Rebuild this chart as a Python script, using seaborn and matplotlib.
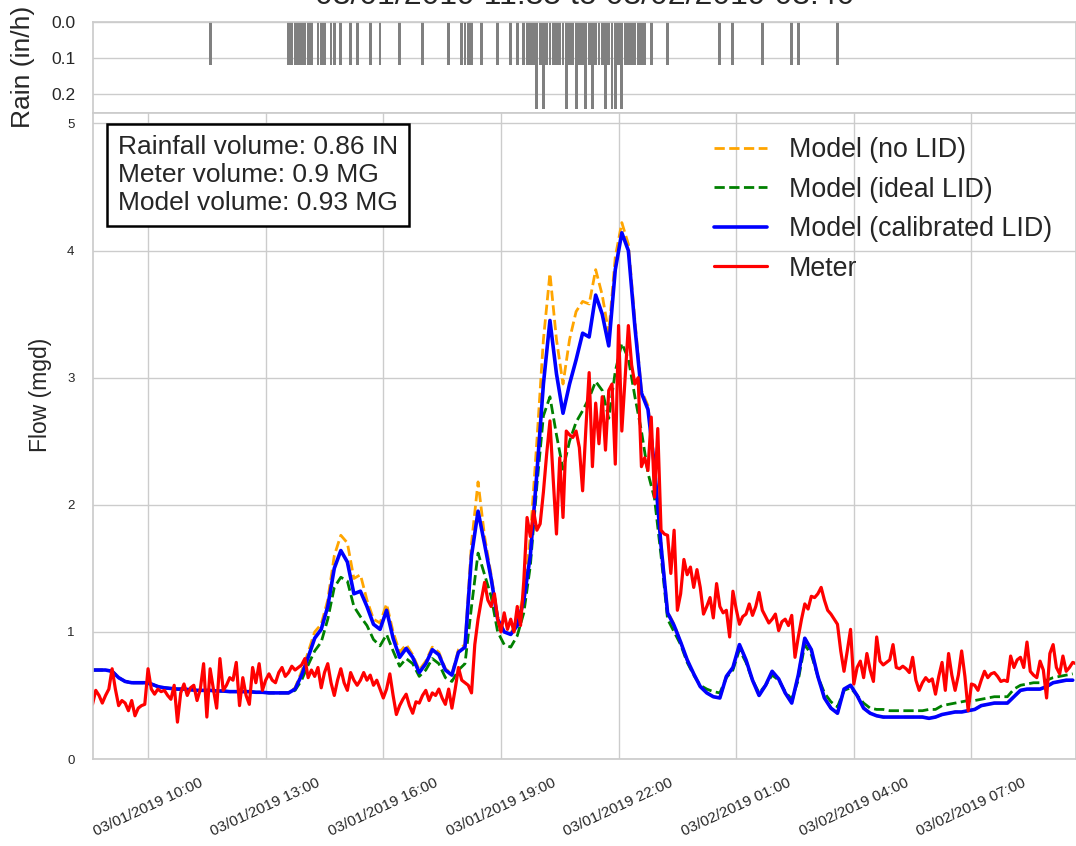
import numpy as np
import pandas as pd
import matplotlib
matplotlib.use("Agg")
import matplotlib.pyplot as plt
import matplotlib.dates as mdates
import seaborn as sns

# ---------------- data ----------------
title_text = "03/01/2019 11:35 to 03/02/2019 03:40"
flow_start = "2019-03-01 08:35"
x_end = "2019-03-02 09:40"
tick_start = "2019-03-01 10:00"

# models: 10-minute values starting 08:35
model_no_lid = [
    0.70, 0.70, 0.70, 0.69, 0.64, 0.61,
    0.60, 0.60, 0.60, 0.59, 0.57, 0.56,
    0.555, 0.55, 0.55, 0.545, 0.54, 0.54,
    0.54, 0.535, 0.535, 0.53, 0.53, 0.53,
    0.53, 0.525, 0.525, 0.52, 0.52, 0.52,
    0.52, 0.56, 0.69, 0.84, 1.00, 1.06,
    1.25, 1.60, 1.76, 1.70, 1.42, 1.45,
    1.25, 1.10, 1.07, 1.22, 1.00, 0.84,
    0.90, 0.82, 0.70, 0.77, 0.88, 0.84,
    0.71, 0.67, 0.86, 0.90, 1.70, 2.18,
    1.75, 1.45, 1.12, 1.00, 0.99, 1.08,
    1.30, 1.75, 2.50, 3.30, 3.82, 3.30,
    2.95, 3.30, 3.52, 3.60, 3.58, 3.85,
    3.65, 3.35, 3.95, 4.22, 4.05, 3.45,
    2.90, 2.78, 2.32, 1.70, 1.16, 1.06,
    0.92, 0.78, 0.67, 0.57, 0.52, 0.49,
    0.48, 0.65, 0.72, 0.90, 0.78, 0.62,
    0.50, 0.58, 0.69, 0.63, 0.52, 0.44,
    0.66, 0.95, 0.86, 0.65, 0.48, 0.40,
    0.36, 0.55, 0.58, 0.50, 0.40, 0.36,
    0.34, 0.33, 0.33, 0.33, 0.33, 0.33,
    0.33, 0.33, 0.32, 0.33, 0.35, 0.36,
    0.37, 0.37, 0.38, 0.39, 0.42, 0.43,
    0.44, 0.44, 0.44, 0.49, 0.54, 0.55,
    0.55, 0.55, 0.57, 0.60, 0.61, 0.62,
    0.62,
]
model_ideal_lid = [
    0.70, 0.70, 0.70, 0.69, 0.64, 0.61,
    0.60, 0.60, 0.60, 0.59, 0.57, 0.56,
    0.555, 0.55, 0.55, 0.545, 0.54, 0.54,
    0.54, 0.535, 0.535, 0.53, 0.53, 0.53,
    0.53, 0.525, 0.525, 0.52, 0.52, 0.52,
    0.52, 0.54, 0.62, 0.74, 0.85, 0.92,
    1.10, 1.35, 1.43, 1.40, 1.20, 1.12,
    1.05, 0.94, 0.89, 0.98, 0.85, 0.73,
    0.79, 0.75, 0.65, 0.70, 0.79, 0.75,
    0.64, 0.61, 0.70, 0.75, 1.20, 1.62,
    1.45, 1.28, 1.00, 0.90, 0.88, 0.97,
    1.15, 1.52, 2.15, 2.70, 2.85, 2.55,
    2.28, 2.50, 2.65, 2.74, 2.84, 2.97,
    2.90, 2.68, 3.05, 3.27, 3.15, 2.85,
    2.58, 2.25, 2.05, 1.60, 1.10, 1.00,
    0.90, 0.76, 0.66, 0.58, 0.55, 0.53,
    0.52, 0.64, 0.70, 0.86, 0.76, 0.62,
    0.52, 0.58, 0.66, 0.62, 0.53, 0.47,
    0.62, 0.90, 0.82, 0.65, 0.52, 0.45,
    0.41, 0.54, 0.56, 0.50, 0.44, 0.40,
    0.39, 0.39, 0.38, 0.38, 0.38, 0.38,
    0.38, 0.38, 0.39, 0.39, 0.42, 0.43,
    0.44, 0.45, 0.46, 0.46, 0.47, 0.48,
    0.49, 0.49, 0.49, 0.55, 0.58, 0.59,
    0.60, 0.60, 0.62, 0.64, 0.65, 0.66,
    0.67,
]
model_calibrated_lid = [
    0.70, 0.70, 0.70, 0.69, 0.64, 0.61,
    0.60, 0.60, 0.60, 0.59, 0.57, 0.56,
    0.555, 0.55, 0.55, 0.545, 0.54, 0.54,
    0.54, 0.535, 0.535, 0.53, 0.53, 0.53,
    0.53, 0.525, 0.525, 0.52, 0.52, 0.52,
    0.52, 0.55, 0.66, 0.80, 0.95, 1.02,
    1.20, 1.50, 1.64, 1.55, 1.30, 1.32,
    1.20, 1.06, 1.02, 1.17, 0.95, 0.80,
    0.87, 0.80, 0.68, 0.75, 0.86, 0.82,
    0.70, 0.66, 0.84, 0.88, 1.60, 1.95,
    1.69, 1.42, 1.10, 1.00, 0.98, 1.05,
    1.25, 1.60, 2.25, 2.95, 3.45, 3.03,
    2.72, 2.95, 3.14, 3.35, 3.32, 3.65,
    3.50, 3.25, 3.85, 4.14, 4.00, 3.40,
    2.88, 2.75, 2.30, 1.68, 1.15, 1.05,
    0.92, 0.78, 0.67, 0.57, 0.52, 0.49,
    0.48, 0.65, 0.72, 0.90, 0.78, 0.62,
    0.50, 0.58, 0.69, 0.63, 0.52, 0.44,
    0.66, 0.95, 0.86, 0.65, 0.48, 0.40,
    0.36, 0.55, 0.58, 0.50, 0.40, 0.36,
    0.34, 0.33, 0.33, 0.33, 0.33, 0.33,
    0.33, 0.33, 0.32, 0.33, 0.35, 0.36,
    0.37, 0.37, 0.38, 0.39, 0.42, 0.43,
    0.44, 0.44, 0.44, 0.49, 0.54, 0.55,
    0.55, 0.55, 0.57, 0.60, 0.61, 0.62,
    0.62,
]

# meter: 5-minute values starting 08:35
meter = [
    0.43, 0.54, 0.50, 0.44, 0.50, 0.55, 0.71, 0.55, 0.42, 0.46, 0.44, 0.38,
    0.46, 0.34, 0.40, 0.42, 0.43, 0.71, 0.55, 0.51, 0.55, 0.53, 0.54, 0.50,
    0.47, 0.58, 0.29, 0.52, 0.59, 0.50, 0.56, 0.58, 0.46, 0.55, 0.75, 0.33,
    0.71, 0.55, 0.40, 0.79, 0.54, 0.58, 0.64, 0.62, 0.76, 0.42, 0.64, 0.50,
    0.43, 0.72, 0.60, 0.75, 0.54, 0.62, 0.67, 0.62, 0.60, 0.68, 0.72, 0.65,
    0.68, 0.73, 0.70, 0.72, 0.74, 0.79, 0.64, 0.70, 0.65, 0.72, 0.56, 0.68,
    0.75, 0.60, 0.50, 0.62, 0.71, 0.60, 0.54, 0.68, 0.62, 0.58, 0.62, 0.68,
    0.62, 0.66, 0.58, 0.62, 0.55, 0.48, 0.55, 0.67, 0.50, 0.35, 0.42, 0.47,
    0.51, 0.42, 0.36, 0.45, 0.44, 0.50, 0.54, 0.46, 0.52, 0.50, 0.55, 0.48,
    0.43, 0.55, 0.40, 0.55, 0.72, 0.62, 0.60, 0.58, 0.52, 0.90, 1.10, 1.25,
    1.39, 1.25, 1.20, 1.30, 1.10, 1.00, 1.15, 1.02, 1.10, 1.00, 1.20, 1.05,
    1.40, 1.90, 1.75, 1.95, 1.80, 1.85, 2.10, 2.40, 2.66, 2.20, 1.77, 2.37,
    1.90, 2.58, 2.55, 2.53, 2.58, 2.45, 2.11, 2.60, 3.04, 2.30, 2.80, 2.48,
    2.85, 2.43, 2.90, 2.95, 2.32, 3.41, 2.58, 3.00, 3.41, 3.10, 2.95, 3.00,
    2.30, 2.37, 2.27, 2.69, 2.06, 2.60, 1.80, 1.77, 1.76, 1.46, 1.80, 1.17,
    1.30, 1.57, 1.45, 1.51, 1.35, 1.49, 1.35, 1.14, 1.20, 1.27, 1.11, 1.38,
    1.20, 1.15, 1.17, 0.96, 1.32, 1.18, 1.06, 1.12, 1.14, 1.22, 1.13, 1.20,
    1.31, 1.17, 1.12, 1.07, 1.10, 1.14, 1.01, 1.08, 1.10, 1.05, 1.13, 0.80,
    0.96, 1.10, 1.22, 1.18, 1.28, 1.27, 1.30, 1.35, 1.25, 1.17, 1.14, 1.10,
    1.06, 0.85, 0.69, 0.85, 1.02, 0.59, 0.72, 0.77, 0.64, 0.83, 0.70, 0.61,
    0.96, 0.77, 0.74, 0.76, 0.78, 0.90, 0.72, 0.71, 0.73, 0.71, 0.68, 0.80,
    0.62, 0.54, 0.60, 0.64, 0.61, 0.63, 0.51, 0.65, 0.76, 0.54, 0.83, 0.66,
    0.54, 0.66, 0.85, 0.65, 0.38, 0.59, 0.58, 0.54, 0.62, 0.69, 0.64, 0.67,
    0.68, 0.65, 0.61, 0.62, 0.61, 0.81, 0.72, 0.78, 0.80, 0.72, 0.92, 0.69,
    0.66, 0.64, 0.77, 0.70, 0.48, 0.83, 0.90, 0.72, 0.67, 0.81, 0.69, 0.72,
    0.76, 0.75,
]

# rain (5-minute intensities, in/h)
rain_time = [
    "2019-03-01 11:35",
    "2019-03-01 13:35", "2019-03-01 13:40", "2019-03-01 13:45", "2019-03-01 13:50", "2019-03-01 13:55",
    "2019-03-01 14:00", "2019-03-01 14:05", "2019-03-01 14:10",
    "2019-03-01 14:20", "2019-03-01 14:25", "2019-03-01 14:30",
    "2019-03-01 14:40", "2019-03-01 14:45",
    "2019-03-01 14:55", "2019-03-01 15:10", "2019-03-01 15:20", "2019-03-01 15:40",
    "2019-03-01 15:55", "2019-03-01 16:25", "2019-03-01 17:00", "2019-03-01 17:40",
    "2019-03-01 18:00", "2019-03-01 18:05", "2019-03-01 18:10", "2019-03-01 18:15",
    "2019-03-01 18:30", "2019-03-01 18:55", "2019-03-01 19:15", "2019-03-01 19:25",
    "2019-03-01 19:35", "2019-03-01 19:40", "2019-03-01 19:45", "2019-03-01 19:50", "2019-03-01 19:55",
    "2019-03-01 20:00", "2019-03-01 20:05", "2019-03-01 20:10", "2019-03-01 20:15", "2019-03-01 20:20",
    "2019-03-01 20:25", "2019-03-01 20:30", "2019-03-01 20:35", "2019-03-01 20:40", "2019-03-01 20:45",
    "2019-03-01 20:50", "2019-03-01 20:55",
    "2019-03-01 21:00", "2019-03-01 21:05", "2019-03-01 21:10", "2019-03-01 21:15", "2019-03-01 21:20",
    "2019-03-01 21:25", "2019-03-01 21:30", "2019-03-01 21:35", "2019-03-01 21:40", "2019-03-01 21:45",
    "2019-03-01 21:50", "2019-03-01 21:55",
    "2019-03-01 22:00", "2019-03-01 22:05", "2019-03-01 22:10", "2019-03-01 22:15", "2019-03-01 22:20",
    "2019-03-01 22:25", "2019-03-01 22:30", "2019-03-01 22:35", "2019-03-01 22:40",
    "2019-03-01 22:50", "2019-03-01 23:15", "2019-03-02 00:35", "2019-03-02 00:55",
    "2019-03-02 01:40", "2019-03-02 02:25", "2019-03-02 02:35", "2019-03-02 03:35",
]
rain_rate = [
    0.12,
    0.12, 0.12, 0.12, 0.12, 0.12,
    0.12, 0.12, 0.12,
    0.12, 0.12, 0.12,
    0.12, 0.12,
    0.12, 0.12, 0.12, 0.12,
    0.12, 0.12, 0.12, 0.12,
    0.12, 0.12, 0.12, 0.12,
    0.12, 0.12, 0.12, 0.12,
    0.12, 0.12, 0.12, 0.12, 0.24,
    0.12, 0.24, 0.12, 0.12, 0.12,
    0.12, 0.12, 0.12, 0.24, 0.12,
    0.12, 0.24,
    0.12, 0.12, 0.24, 0.12, 0.24,
    0.12, 0.12, 0.12, 0.24, 0.12,
    0.24, 0.24,
    0.12, 0.24, 0.12, 0.12, 0.12,
    0.12, 0.12, 0.12, 0.12,
    0.12, 0.12, 0.12, 0.12,
    0.12, 0.12, 0.12, 0.12,
]

box_lines = ["Rainfall volume: 0.86 IN", "Meter volume: 0.9 MG", "Model volume: 0.93 MG"]
series_labels = ["Model (no LID)", "Model (ideal LID)", "Model (calibrated LID)", "Meter"]
y_ticks = [0, 1, 2, 3, 4, 5]
rain_ticks = [0.0, 0.1, 0.2]

# ---------------- plot ----------------
sns.set_theme(style="whitegrid")
plt.rcParams["font.family"] = ["Liberation Sans", "DejaVu Sans"]

model_t = pd.date_range(flow_start, periods=len(model_no_lid), freq="10min")
meter_t = pd.date_range(flow_start, periods=len(meter), freq="5min")
rain_t = pd.to_datetime(rain_time)

W, H = 1076, 846
fig = plt.figure(figsize=(W / 100, H / 100), dpi=100)
left = 92.5 / W
ax_r = fig.add_axes([left, 1 - 112.7 / H, 1 - left, (112.7 - 21.7) / H])
ax = fig.add_axes([left, 1 - 759 / H, 1 - left, (759 - 113.3) / H])

xlim = (mdates.date2num(pd.Timestamp(flow_start)), mdates.date2num(pd.Timestamp(x_end)))

# rain panel
ax_r.bar(mdates.date2num(rain_t), rain_rate, width=4.4 / 1440, color="gray",
         linewidth=0, align="center")
ax_r.set_xlim(*xlim)
ax_r.set_ylim(0.25, 0.0)
ax_r.set_yticks(rain_ticks)
ax_r.set_yticklabels([f"{v:.1f}" for v in rain_ticks])
ax_r.set_xticks([])
ax_r.tick_params(axis="y", labelsize=12.5, length=0, pad=12)
ax_r.set_ylabel("Rain (in/h)", fontsize=19)
ax_r.yaxis.set_label_coords(-0.058, 0.5)

# flow panel
sns.lineplot(x=model_t, y=model_no_lid, ax=ax, color="orange", linestyle="--",
             linewidth=2.0, label=series_labels[0])
sns.lineplot(x=model_t, y=model_ideal_lid, ax=ax, color="green", linestyle="--",
             linewidth=2.0, label=series_labels[1])
sns.lineplot(x=model_t, y=model_calibrated_lid, ax=ax, color="blue",
             linewidth=2.6, label=series_labels[2])
sns.lineplot(x=meter_t, y=meter, ax=ax, color="red", linewidth=2.3,
             label=series_labels[3])

ax.set_xlim(*xlim)
ax.set_ylim(0, 5.08)
ax.set_yticks(y_ticks)
ax.set_yticklabels([str(v) for v in y_ticks])
ax.set_xticks(mdates.date2num(pd.date_range(tick_start, periods=8, freq="3h")))
ax.xaxis.set_major_formatter(mdates.DateFormatter("%m/%d/%Y %H:%M"))
ax.tick_params(axis="y", labelsize=9.5, length=0, pad=13)
ax.tick_params(axis="x", labelsize=11, length=0, pad=12)
for lab in ax.get_xticklabels():
    lab.set_rotation(25)
    lab.set_ha("center")
ax.set_xlabel("")
ax.set_ylabel("Flow (mgd)", fontsize=16.5)
ax.yaxis.set_label_coords(-0.041, 0.564)

ax.legend(loc="upper right", frameon=False, fontsize=19.3)

ax.text(0.026, 0.966, "\n".join(box_lines), transform=ax.transAxes,
        ha="left", va="top", fontsize=19, zorder=10, linespacing=1.2,
        bbox=dict(boxstyle="square,pad=0.42", facecolor="white",
                  edgecolor="black", linewidth=1.8))

fig.text(left + (1 - left) / 2, 1 - 3.5 / H, title_text, ha="center",
         va="baseline", fontsize=23)

fig.savefig("out.png", dpi=100)
